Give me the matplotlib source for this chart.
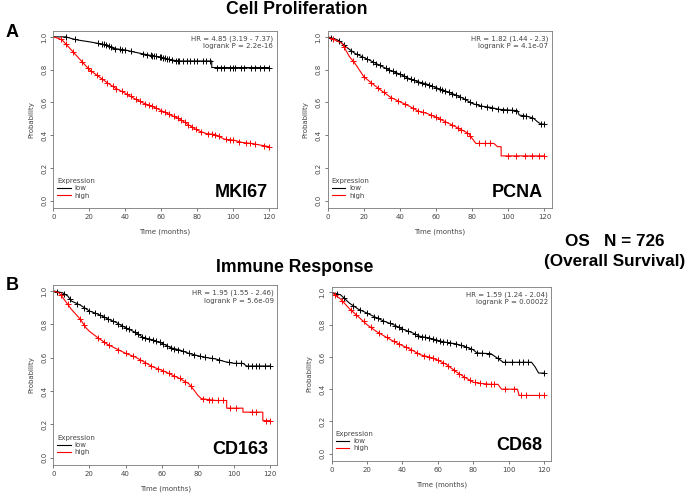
import numpy as np
import matplotlib.pyplot as plt

## survival curves (months, probability); repeated times are drops
mki67_low_t = [0, 7, 10, 14, 20, 25, 30, 33, 40, 45, 50, 55, 60, 65, 70, 88, 88, 120]
mki67_low_s = [1.0, 1.0, 0.99, 0.98, 0.97, 0.96, 0.95, 0.93, 0.92, 0.907, 0.896, 0.885, 0.876, 0.86, 0.853, 0.853, 0.813, 0.813]
mki67_high_t = [0, 3, 5, 10, 15, 20, 25, 30, 35, 40, 45, 50, 55, 60, 65, 70, 75, 80, 85, 90, 95, 100, 105, 110, 115, 120]
mki67_high_s = [1.0, 0.99, 0.98, 0.92, 0.86, 0.80, 0.76, 0.72, 0.684, 0.656, 0.624, 0.596, 0.576, 0.55, 0.524, 0.50, 0.464, 0.43, 0.41, 0.404, 0.376, 0.37, 0.356, 0.35, 0.34, 0.33]
mki67_low_cens = [7, 12, 25, 27, 28, 29, 31, 32, 34, 37, 38, 40, 43, 50, 52, 54, 55, 56, 57, 59, 60, 61, 62, 63, 64, 66, 68, 69, 70, 72, 74, 76, 78, 80, 83, 85, 87, 91, 93, 95, 98, 100, 101, 104, 106, 110, 112, 115, 117, 120]
mki67_high_cens = [4, 7, 11, 16, 19, 21, 24, 27, 30, 33, 35, 38, 41, 43, 46, 48, 51, 53, 55, 57, 60, 62, 64, 67, 69, 71, 73, 75, 77, 79, 82, 86, 88, 90, 92, 96, 98, 100, 103, 107, 109, 112, 117, 120]

pcna_low_t = [0, 5, 7, 10, 15, 20, 25, 30, 35, 40, 45, 50, 55, 60, 65, 70, 75, 80, 85, 90, 95, 100, 105, 106, 110, 114, 116, 118, 120]
pcna_low_s = [1.0, 0.984, 0.97, 0.94, 0.90, 0.874, 0.848, 0.82, 0.793, 0.773, 0.746, 0.726, 0.712, 0.69, 0.67, 0.65, 0.625, 0.594, 0.578, 0.57, 0.558, 0.554, 0.55, 0.523, 0.517, 0.503, 0.483, 0.468, 0.468]
pcna_high_t = [0, 5, 8, 10, 12, 15, 20, 25, 30, 35, 40, 45, 50, 55, 60, 65, 70, 75, 78, 80, 82, 92, 94, 96, 96, 120]
pcna_high_s = [1.0, 0.976, 0.96, 0.92, 0.88, 0.84, 0.757, 0.712, 0.67, 0.63, 0.604, 0.578, 0.548, 0.533, 0.51, 0.483, 0.456, 0.428, 0.41, 0.38, 0.35, 0.35, 0.33, 0.33, 0.274, 0.274]
pcna_low_cens = [2, 6, 9, 13, 16, 19, 22, 25, 27, 29, 32, 34, 36, 38, 40, 42, 44, 46, 48, 50, 52, 54, 56, 58, 60, 62, 63, 65, 67, 69, 71, 73, 76, 79, 82, 85, 88, 91, 94, 97, 99, 102, 104, 108, 110, 113, 118, 120]
pcna_high_cens = [3, 9, 14, 20, 24, 28, 31, 35, 39, 43, 47, 50, 53, 57, 60, 62, 65, 69, 72, 74, 77, 79, 84, 87, 90, 100, 104, 109, 113, 117, 120]

cd163_low_t = [0, 5, 8, 10, 15, 20, 25, 30, 35, 40, 45, 50, 55, 60, 65, 70, 75, 80, 85, 90, 95, 100, 105, 107, 120]
cd163_low_s = [1.0, 0.99, 0.97, 0.94, 0.915, 0.88, 0.86, 0.834, 0.81, 0.78, 0.754, 0.72, 0.707, 0.687, 0.66, 0.646, 0.626, 0.612, 0.60, 0.592, 0.576, 0.566, 0.566, 0.55, 0.55]
cd163_high_t = [0, 3, 5, 10, 15, 18, 20, 25, 30, 35, 40, 45, 50, 55, 60, 65, 70, 75, 78, 80, 82, 90, 96, 96, 105, 105, 116, 116, 120]
cd163_high_s = [1.0, 0.99, 0.964, 0.89, 0.83, 0.78, 0.758, 0.717, 0.68, 0.653, 0.626, 0.606, 0.576, 0.545, 0.525, 0.50, 0.475, 0.444, 0.404, 0.374, 0.354, 0.343, 0.343, 0.297, 0.297, 0.273, 0.273, 0.222, 0.222]
cd163_low_cens = [2, 6, 9, 13, 17, 20, 23, 26, 28, 30, 33, 36, 38, 40, 42, 45, 47, 49, 51, 53, 55, 57, 59, 61, 63, 65, 67, 69, 72, 75, 78, 81, 84, 88, 92, 97, 101, 104, 108, 110, 112, 114, 117, 120]
cd163_high_cens = [4, 8, 15, 17, 25, 28, 31, 36, 40, 44, 48, 51, 54, 58, 61, 64, 67, 70, 73, 76, 83, 86, 88, 91, 94, 98, 101, 110, 112, 118, 120]

cd68_low_t = [0, 5, 8, 10, 15, 20, 25, 30, 35, 40, 45, 50, 55, 60, 65, 70, 75, 80, 82, 90, 95, 97, 113, 115, 117, 120]
cd68_low_s = [1.0, 0.986, 0.955, 0.934, 0.897, 0.872, 0.845, 0.82, 0.80, 0.773, 0.753, 0.728, 0.718, 0.703, 0.69, 0.682, 0.666, 0.645, 0.625, 0.62, 0.583, 0.567, 0.567, 0.538, 0.50, 0.50]
cd68_high_t = [0, 3, 5, 10, 15, 20, 25, 30, 35, 40, 45, 50, 55, 60, 65, 70, 75, 80, 85, 90, 94, 96, 105, 106, 120]
cd68_high_s = [1.0, 0.975, 0.96, 0.90, 0.85, 0.80, 0.76, 0.728, 0.697, 0.67, 0.645, 0.614, 0.60, 0.58, 0.553, 0.51, 0.476, 0.443, 0.435, 0.43, 0.43, 0.40, 0.40, 0.361, 0.361]
cd68_low_cens = [3, 7, 12, 16, 20, 24, 26, 29, 33, 36, 38, 40, 43, 47, 49, 51, 53, 55, 57, 59, 61, 63, 65, 67, 70, 73, 76, 79, 82, 85, 89, 94, 98, 102, 106, 108, 111, 120]
cd68_high_cens = [2, 6, 11, 14, 18, 22, 27, 31, 35, 38, 42, 45, 48, 52, 55, 57, 60, 63, 66, 69, 72, 75, 78, 81, 84, 87, 90, 92, 98, 103, 107, 110, 117, 120]

genes = ['MKI67', 'PCNA', 'CD163', 'CD68']
hr_text = ['HR = 4.85 (3.19 - 7.37)', 'HR = 1.82 (1.44 - 2.3)', 'HR = 1.95 (1.55 - 2.46)', 'HR = 1.59 (1.24 - 2.04)']
p_text = ['logrank P = 2.2e-16', 'logrank P = 4.1e-07', 'logrank P = 5.6e-09', 'logrank P = 0.00022']

curves = [
    (mki67_low_t, mki67_low_s, mki67_low_cens, mki67_high_t, mki67_high_s, mki67_high_cens),
    (pcna_low_t, pcna_low_s, pcna_low_cens, pcna_high_t, pcna_high_s, pcna_high_cens),
    (cd163_low_t, cd163_low_s, cd163_low_cens, cd163_high_t, cd163_high_s, cd163_high_cens),
    (cd68_low_t, cd68_low_s, cd68_low_cens, cd68_high_t, cd68_high_s, cd68_high_cens),
]

# axes boxes [left, bottom, width, height] in figure fractions
boxes = [
    [0.0775, 0.5823, 0.3245, 0.3555],
    [0.4763, 0.5823, 0.3256, 0.3555],
    [0.0775, 0.0663, 0.3255, 0.3614],
    [0.4821, 0.0749, 0.3188, 0.3494],
]

fig = plt.figure(figsize=(6.88, 4.98), dpi=100)
grey = '#444444'


def censor_y(t, s, ct):
    # value of the curve at each censor time
    t = np.array(t, dtype=float)
    s = np.array(s, dtype=float)
    out = []
    for c in ct:
        i = np.where(t <= c)[0][-1]
        if i + 1 < len(t) and t[i + 1] > t[i]:
            out.append(np.interp(c, t, s))
        else:
            out.append(s[i])
    return out


for k in range(4):
    lt, ls, lc, ht, hs, hc = curves[k]
    ax = fig.add_axes(boxes[k])
    l1, = ax.plot(lt, ls, color='black', lw=0.8, label='low')
    ax.plot(lc, censor_y(lt, ls, lc), '+', color='black', ms=4, mew=0.7)
    l2, = ax.plot(ht, hs, color='red', lw=0.8, label='high')
    ax.plot(hc, censor_y(ht, hs, hc), '+', color='red', ms=4, mew=0.7)
    ax.set_xlim(0, 124)
    ax.set_ylim(-0.044, 1.036)
    ax.set_xticks([0, 20, 40, 60, 80, 100, 120])
    ax.set_yticks([0.0, 0.2, 0.4, 0.6, 0.8, 1.0])
    ax.set_yticklabels(['0.0', '0.2', '0.4', '0.6', '0.8', '1.0'], rotation=90, va='center')
    ax.tick_params(labelsize=5, colors=grey, length=2.5, width=0.5, pad=2)
    for sp in ax.spines.values():
        sp.set_color('#777777')
        sp.set_linewidth(0.6)
    ax.set_xlabel('Time (months)', fontsize=5, color=grey, labelpad=6)
    ax.set_ylabel('Probability', fontsize=5, color=grey, labelpad=5)
    ax.text(0.985, 0.975, hr_text[k] + '\n' + p_text[k], transform=ax.transAxes,
            ha='right', va='top', fontsize=5, color=grey, linespacing=1.3)
    ax.text(0.96, 0.085, genes[k], transform=ax.transAxes, ha='right', va='center',
            fontsize=13, fontweight='bold', family='Liberation Sans')
    leg = ax.legend(handles=[l1, l2], title='Expression', loc='lower left', frameon=False,
                    fontsize=5, title_fontsize=5, alignment='left', handlelength=1.9,
                    borderaxespad=0.2, labelspacing=0.15, handletextpad=0.6,
                    bbox_to_anchor=(0.0, 0.03))
    for txt in leg.get_texts():
        txt.set_color(grey)
    leg.get_title().set_color(grey)

fig.text(0.432, 0.980, 'Cell Proliferation', ha='center', va='center', fontsize=12.7,
         fontweight='bold', family='Liberation Sans')
fig.text(0.429, 0.462, 'Immune Response', ha='center', va='center', fontsize=12.7,
         fontweight='bold', family='Liberation Sans')
fig.text(0.018, 0.934, 'A', ha='center', va='center', fontsize=13, fontweight='bold',
         family='Liberation Sans')
fig.text(0.018, 0.427, 'B', ha='center', va='center', fontsize=13, fontweight='bold',
         family='Liberation Sans')
fig.text(0.893, 0.515, 'OS   N = 726', ha='center', va='center', fontsize=12.3,
         fontweight='bold', family='Liberation Sans')
fig.text(0.893, 0.475, '(Overall Survival)', ha='center', va='center', fontsize=12.3,
         fontweight='bold', family='Liberation Sans')

fig.savefig('out.png', dpi=100)
